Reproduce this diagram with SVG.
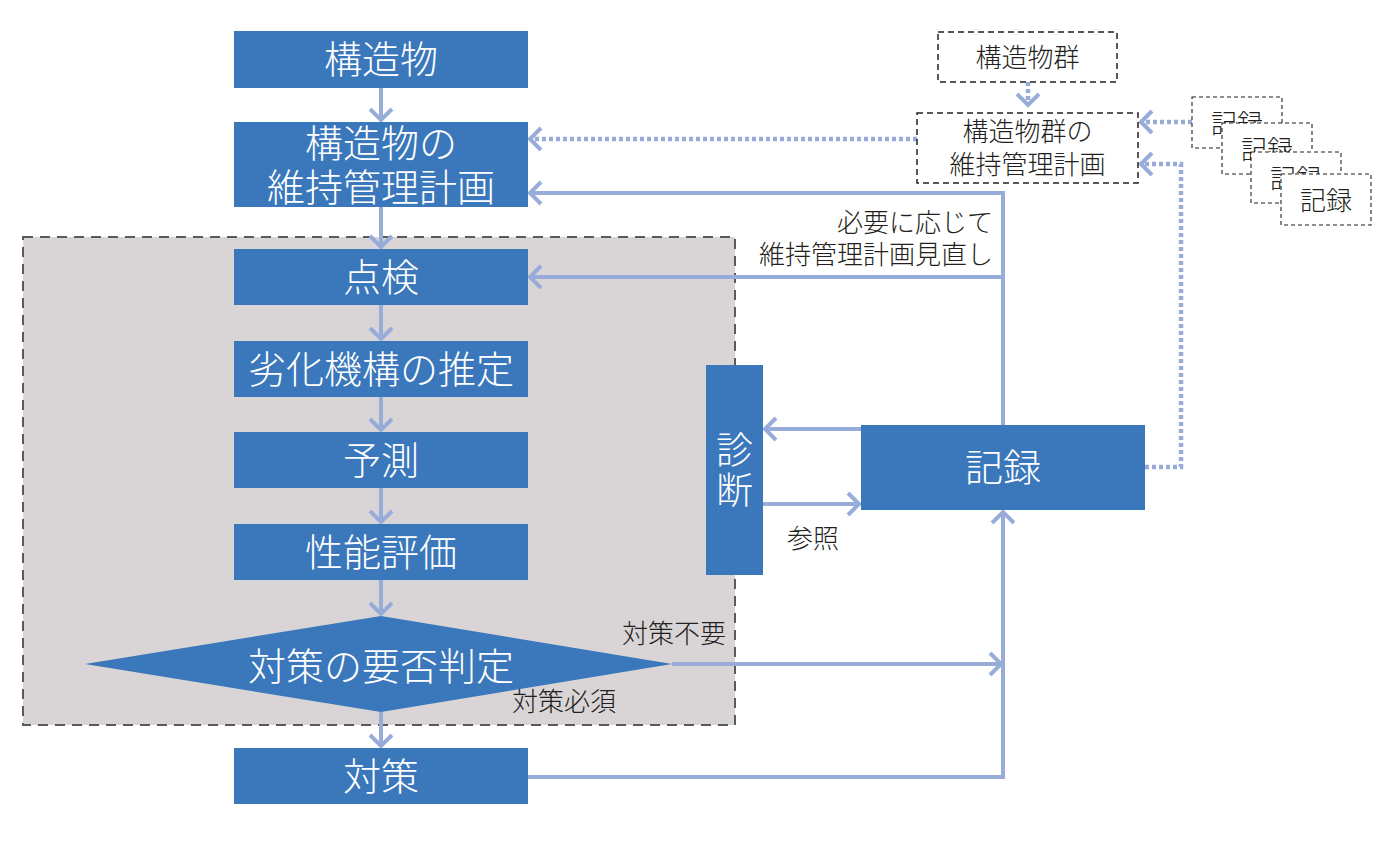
<svg xmlns="http://www.w3.org/2000/svg" width="1395" height="843" viewBox="0 0 1395 843">
<style>
.box{fill:#3b78bb}
.wt{fill:#ffffff;font-family:"Noto Sans CJK JP","Noto Sans CJK SC",sans-serif;font-size:38px;font-weight:300;text-anchor:middle}
.lb{fill:#231f20;font-family:"Noto Sans CJK JP","Noto Sans CJK SC",sans-serif;font-size:26px;font-weight:300}
.dt{fill:#231f20;font-family:"Noto Sans CJK JP","Noto Sans CJK SC",sans-serif;font-size:26px;font-weight:300;text-anchor:middle}
.dbox{fill:#ffffff;stroke:#231f20;stroke-width:1.5;stroke-dasharray:6 4}
.rbox{fill:#ffffff;stroke:#231f20;stroke-width:1.1;stroke-dasharray:4 3}
.ln{fill:none;stroke:#98acd9;stroke-width:4}
.dot{fill:none;stroke:#98acd9;stroke-width:4.5;stroke-dasharray:4 3}
</style>
<defs>
<marker id="ah" markerUnits="userSpaceOnUse" markerWidth="30" markerHeight="30" viewBox="-20 -15 24 30" refX="0" refY="0" orient="auto" overflow="visible">
<path d="M-12,-11 L-1,0 L-12,11" fill="none" stroke="#98acd9" stroke-width="4"/>
</marker>
</defs>
<rect x="0" y="0" width="1395" height="843" fill="#ffffff"/>
<g id="region">
<rect x="23" y="237" width="712" height="488" fill="#d9d5d6" stroke="#5a5a5a" stroke-width="2" stroke-dasharray="10 7"/>
</g>
<g id="connectors">
<line class="ln" x1="381" y1="88" x2="381" y2="121" marker-end="url(#ah)"/>
<line class="ln" x1="381" y1="207" x2="381" y2="248" marker-end="url(#ah)"/>
<line class="ln" x1="381" y1="305" x2="381" y2="340" marker-end="url(#ah)"/>
<line class="ln" x1="381" y1="397" x2="381" y2="431" marker-end="url(#ah)"/>
<line class="ln" x1="381" y1="488" x2="381" y2="523" marker-end="url(#ah)"/>
<line class="ln" x1="381" y1="580" x2="381" y2="615" marker-end="url(#ah)"/>
<line class="ln" x1="381" y1="712" x2="381" y2="747" marker-end="url(#ah)"/>
<polyline class="ln" points="1003,425 1003,193 529,193" marker-end="url(#ah)"/>
<line class="ln" x1="1003" y1="277" x2="529" y2="277" marker-end="url(#ah)"/>
<line class="ln" x1="861" y1="429" x2="764" y2="429" marker-end="url(#ah)"/>
<line class="ln" x1="763" y1="504" x2="860" y2="504" marker-end="url(#ah)"/>
<polyline class="ln" points="528,777 1003,777 1003,511" marker-end="url(#ah)"/>
<line class="ln" x1="672" y1="664" x2="1002" y2="664" marker-end="url(#ah)"/>
<line class="dot" x1="917" y1="139" x2="529" y2="139" marker-end="url(#ah)"/>
<line class="dot" x1="1028" y1="82" x2="1028" y2="106" marker-end="url(#ah)"/>
<line class="dot" x1="1192" y1="122" x2="1140" y2="122" marker-end="url(#ah)"/>
<polyline class="dot" points="1145,467 1181,467 1181,164 1140,164" marker-end="url(#ah)"/>
</g>
<g id="n-kozobutsu">
<rect class="box" x="234" y="31" width="294" height="57"/>
<text class="wt" x="381" y="73">構造物</text>
</g>
<g id="n-keikaku">
<rect class="box" x="234" y="122" width="294" height="85"/>
<text class="wt"><tspan x="381" y="157">構造物の</tspan><tspan x="381" y="201">維持管理計画</tspan></text>
</g>
<g id="n-tenken">
<rect class="box" x="234" y="249" width="294" height="56"/>
<text class="wt" x="381" y="291">点検</text>
</g>
<g id="n-rekka">
<rect class="box" x="234" y="341" width="294" height="56"/>
<text class="wt" x="381" y="383">劣化機構の推定</text>
</g>
<g id="n-yosoku">
<rect class="box" x="234" y="432" width="294" height="56"/>
<text class="wt" x="381" y="474">予測</text>
</g>
<g id="n-seino">
<rect class="box" x="234" y="524" width="294" height="56"/>
<text class="wt" x="381" y="566">性能評価</text>
</g>
<g id="n-hantei">
<polygon class="box" points="381,616 672,664 381,712 85,664"/>
<text class="wt" x="381" y="680">対策の要否判定</text>
</g>
<g id="n-taisaku">
<rect class="box" x="234" y="748" width="294" height="56"/>
<text class="wt" x="381" y="790">対策</text>
</g>
<g id="n-shindan">
<rect class="box" x="706" y="365" width="57" height="210"/>
<text class="wt" style="font-size:37px"><tspan x="734.5" y="464">診</tspan><tspan x="734.5" y="504">断</tspan></text>
</g>
<g id="n-kiroku">
<rect class="box" x="861" y="425" width="284" height="85"/>
<text class="wt" x="1003" y="481">記録</text>
</g>
<g id="n-gun">
<rect class="dbox" x="938" y="32" width="179" height="50"/>
<text class="dt" x="1027.5" y="67">構造物群</text>
</g>
<g id="n-gunkeikaku">
<rect class="dbox" x="917" y="113" width="221" height="70"/>
<text class="dt"><tspan x="1027.5" y="141">構造物群の</tspan><tspan x="1027.5" y="173.5">維持管理計画</tspan></text>
</g>
<g id="n-records">
<rect class="rbox" x="1192" y="97" width="90" height="51"/>
<text class="dt" x="1237" y="132.5">記録</text>
<rect class="rbox" x="1222" y="123" width="90" height="51"/>
<text class="dt" x="1267" y="158.5">記録</text>
<rect class="rbox" x="1251" y="152" width="90" height="51"/>
<text class="dt" x="1296" y="187.5">記録</text>
<rect class="rbox" x="1281" y="174" width="90" height="51"/>
<text class="dt" x="1326" y="209.5">記録</text>
</g>
<g id="labels">
<text class="lb" x="993" y="231.5" text-anchor="end">必要に応じて</text>
<text class="lb" x="993" y="263.5" text-anchor="end">維持管理計画見直し</text>
<text class="lb" x="622" y="642.5">対策不要</text>
<text class="lb" x="512" y="710.5">対策必須</text>
<text class="lb" x="787" y="547.5">参照</text>
</g>
</svg>
